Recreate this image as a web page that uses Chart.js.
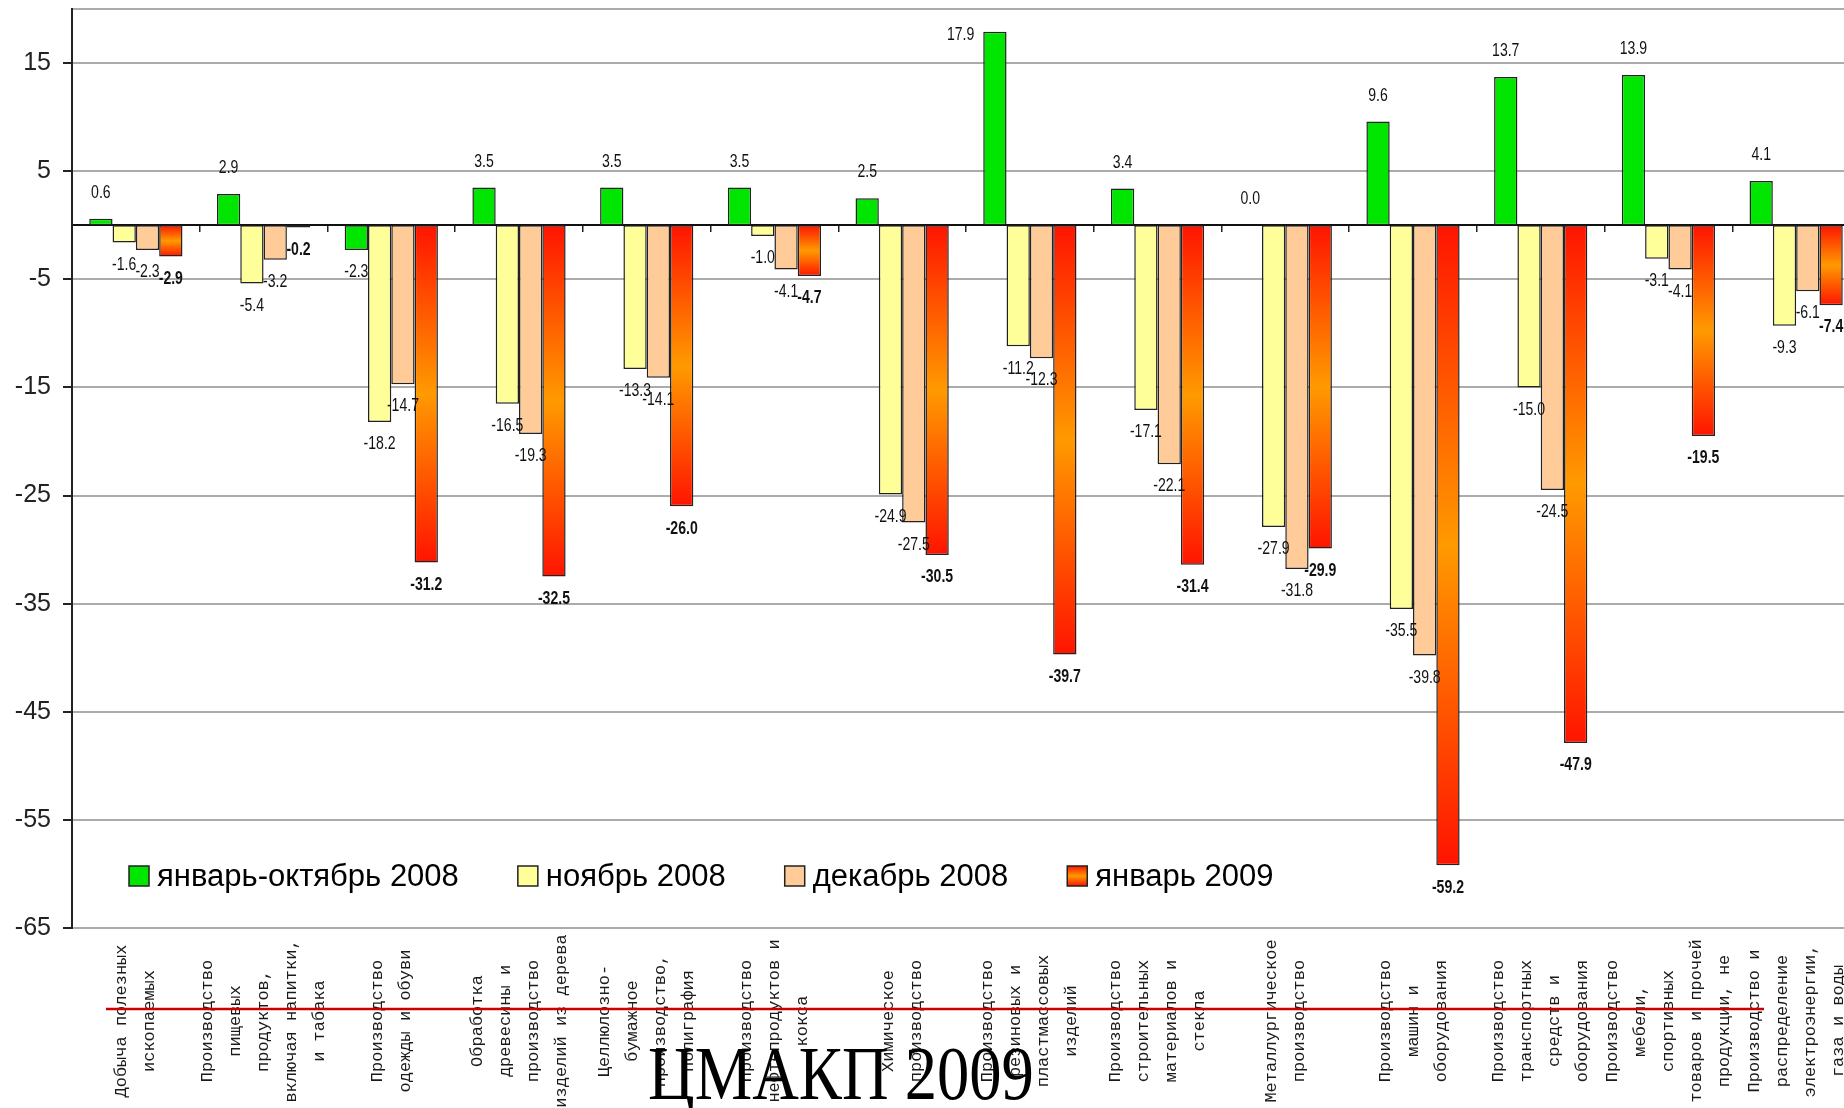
<!DOCTYPE html>
<html>
<head>
<meta charset="utf-8">
<script src="https://cdn.jsdelivr.net/npm/chart.js@4/dist/chart.umd.min.js"></script>
<style>
html,body{margin:0;padding:0;background:#fff;overflow:hidden;width:1844px;height:1108px;}
#wrap{position:absolute;left:0;top:0;width:1860px;height:1108px;}
canvas{display:block;}
</style>
</head>
<body>
<div id="wrap"><canvas id="c" width="1860" height="1108"></canvas></div>
<script>
// ---- data ----
const categories = [
  ["Добыча полезных", "ископаемых"],
  ["Производство", "пищевых", "продуктов,", "включая напитки,", "и табака"],
  ["Производство", "одежды и обуви"],
  ["Обработка", "древесины и", "производство", "изделий из дерева"],
  ["Целлюлозно-", "бумажное", "производство,", "полиграфия"],
  ["Производство", "нефтепродуктов и", "кокса"],
  ["Химическое", "производство"],
  ["Производство", "резиновых и", "пластмассовых", "изделий"],
  ["Производство", "строительных", "материалов и", "стекла"],
  ["Металлургическое", "производство"],
  ["Производство", "машин и", "оборудования"],
  ["Производство", "транспортных", "средств и", "оборудования"],
  ["Производство", "мебели,", "спортивных", "товаров и прочей", "продукции, не"],
  ["Производство и", "распределение", "электроэнергии,", "газа и воды"]
];
const seriesNames = ["январь-октябрь 2008", "ноябрь 2008", "декабрь 2008", "январь 2009"];
const janOct2008 = [0.6, 2.9, -2.3, 3.5, 3.5, 3.5, 2.5, 17.9, 3.4, 0.0, 9.6, 13.7, 13.9, 4.1];
const nov2008    = [-1.6, -5.4, -18.2, -16.5, -13.3, -1.0, -24.9, -11.2, -17.1, -27.9, -35.5, -15.0, -3.1, -9.3];
const dec2008    = [-2.3, -3.2, -14.7, -19.3, -14.1, -4.1, -27.5, -12.3, -22.1, -31.8, -39.8, -24.5, -4.1, -6.1];
const jan2009    = [-2.9, -0.2, -31.2, -32.5, -26.0, -4.7, -30.5, -39.7, -31.4, -29.9, -59.2, -47.9, -19.5, -7.4];
const yTickValues = [-65, -55, -45, -35, -25, -15, -5, 5, 15];
const yMin = -65, yMax = 20;
const watermarkText = "ЦМАКП 2009";

// ---- styles ----
const GREEN = '#00E600', YELLOW = '#FFFF99', PEACH = '#FFCC99';
const RED = '#FF1400', ORANGE = '#FF9A00';

function redGradient(ctx) {
  const chart = ctx.chart;
  if (!chart.chartArea || ctx.type !== 'data') return '#FF5000';
  const ys = chart.scales.y;
  const y0 = ys.getPixelForValue(0);
  const y1 = ys.getPixelForValue(ctx.raw);
  if (Math.abs(y1 - y0) < 1) return RED;
  const g = chart.ctx.createLinearGradient(0, y0, 0, y1);
  g.addColorStop(0, RED);
  g.addColorStop(0.5, ORANGE);
  g.addColorStop(1, RED);
  return g;
}

const barCommon = {borderColor: '#222', borderWidth: 1.5, borderSkipped: false,
  categoryPercentage: 0.73, barPercentage: 1.0};

const dataLabelPlugin = {
  id: 'dataLabels',
  afterDatasetsDraw(chart) {
    const ctx = chart.ctx;
    ctx.save();
    ctx.fillStyle = '#111';
    ctx.textAlign = 'center';
    ctx.textBaseline = 'middle';
    const sx = 0.74;
    chart.data.datasets.forEach((ds, di) => {
      const meta = chart.getDatasetMeta(di);
      ctx.font = (di === 3 ? 'bold ' : '') + '19px "Liberation Sans", Arial, sans-serif';
      meta.data.forEach((bar, i) => {
        const v = ds.data[i];
        const txt = v.toFixed(1);
        const p = bar.getProps(['x', 'y', 'width'], true);
        let lx = p.x, ly;
        if (v >= 0) {
          ly = p.y - 26;
          if (ly < chart.chartArea.top + 12) {
            const tw = ctx.measureText(txt).width * sx;
            lx = p.x - p.width / 2 - tw / 2 - 9;
            ly = p.y + 3;
          }
        } else {
          ly = p.y + 22;
        }
        ctx.save();
        ctx.translate(lx, ly);
        ctx.scale(sx, 1);
        ctx.fillText(txt, 0, 0);
        ctx.restore();
      });
    });
    ctx.restore();
  }
};

const decorPlugin = {
  id: 'decor',
  afterDraw(chart) {
    const ctx = chart.ctx;
    const xs = chart.scales.x;
    // category labels (rotated, centred)
    ctx.save();
    ctx.fillStyle = '#1a1a1a';
    ctx.font = '17px "Liberation Mono", "Courier New", monospace';
    ctx.textAlign = 'center';
    ctx.textBaseline = 'middle';
    const lh = 28;
    categories.forEach((lines, i) => {
      const cx = xs.getPixelForValue(i);
      const n = lines.length;
      lines.forEach((ln, j) => {
        const x = cx + (j - (n - 1) / 2) * lh;
        ctx.save();
        ctx.translate(x, 1021);
        ctx.rotate(-Math.PI / 2);
        ctx.fillText(ln, 0, 0);
        ctx.restore();
      });
    });
    ctx.restore();

    // legend inside plot
    ctx.save();
    ctx.font = '31px "Liberation Sans", Arial, sans-serif';
    ctx.textBaseline = 'middle';
    ctx.textAlign = 'left';
    const ly = 876;
    let lx = 129;
    const fills = [GREEN, YELLOW, PEACH, null];
    seriesNames.forEach((name, k) => {
      let f = fills[k];
      if (!f) {
        f = ctx.createLinearGradient(0, ly - 10, 0, ly + 10);
        f.addColorStop(0, RED); f.addColorStop(0.5, ORANGE); f.addColorStop(1, RED);
      }
      ctx.fillStyle = f;
      ctx.fillRect(lx, ly - 10, 20, 20);
      ctx.strokeStyle = '#222';
      ctx.lineWidth = 1.5;
      ctx.strokeRect(lx, ly - 10, 20, 20);
      ctx.fillStyle = '#000';
      ctx.fillText(name, lx + 28, ly + 1);
      lx += 28 + ctx.measureText(name).width + 59;
    });
    ctx.restore();

    // red line
    ctx.save();
    ctx.strokeStyle = '#CC0000';
    ctx.lineWidth = 2.5;
    ctx.beginPath();
    ctx.moveTo(106, 1009);
    ctx.lineTo(1764, 1009);
    ctx.stroke();
    ctx.restore();

    // watermark
    ctx.save();
    ctx.fillStyle = '#000';
    ctx.font = '76px "Liberation Serif", "Times New Roman", serif';
    ctx.textAlign = 'center';
    ctx.textBaseline = 'alphabetic';
    ctx.translate(841, 1099);
    ctx.scale(0.85, 1);
    ctx.fillText(watermarkText, 0, 0);
    ctx.restore();
  }
};

new Chart(document.getElementById('c'), {
  type: 'bar',
  data: {
    labels: categories.map(l => l.join(' ')),
    datasets: [
      Object.assign({label: seriesNames[0], data: janOct2008, backgroundColor: GREEN}, barCommon),
      Object.assign({label: seriesNames[1], data: nov2008, backgroundColor: YELLOW}, barCommon),
      Object.assign({label: seriesNames[2], data: dec2008, backgroundColor: PEACH}, barCommon),
      Object.assign({label: seriesNames[3], data: jan2009, backgroundColor: redGradient}, barCommon)
    ]
  },
  options: {
    responsive: false,
    animation: false,
    events: [],
    layout: {padding: {top: 9, left: 0, right: 0, bottom: 0}},
    plugins: {legend: {display: false}, tooltip: {enabled: false}, title: {display: false}},
    scales: {
      x: {
        offset: true,
        grid: {display: false, offset: true},
        border: {display: false},
        ticks: {display: false},
        afterFit: s => { s.height = 180; s.paddingLeft = 0; s.paddingRight = 0; }
      },
      xz: {
        type: 'category',
        position: {y: 0},
        offset: true,
        grid: {offset: true, drawOnChartArea: false, drawTicks: true, tickLength: 6, color: '#222', lineWidth: 1.5},
        border: {display: true, color: '#111', width: 2},
        ticks: {display: false},
        afterFit: s => { s.paddingLeft = 0; s.paddingRight = 0; }
      },
      y: {
        min: yMin,
        max: yMax,
        afterFit: s => { s.width = 72; s.paddingTop = 0; s.paddingBottom = 0; },
        afterBuildTicks: s => { s.ticks = yTickValues.concat([yMax]).map(v => ({value: v})); },
        ticks: {
          font: {family: '"Liberation Sans", Arial, sans-serif', size: 25},
          color: '#222',
          padding: 12,
          autoSkip: false,
          callback: v => (v === yMax ? '' : String(v))
        },
        grid: {
          color: '#ABABAB',
          lineWidth: 2,
          tickLength: 9,
          tickWidth: 2,
          tickColor: c => (c.tick && c.tick.value === yMax ? 'rgba(0,0,0,0)' : '#222')
        },
        border: {display: true, color: '#222', width: 2}
      }
    }
  },
  plugins: [dataLabelPlugin, decorPlugin]
});
</script>
</body>
</html>
